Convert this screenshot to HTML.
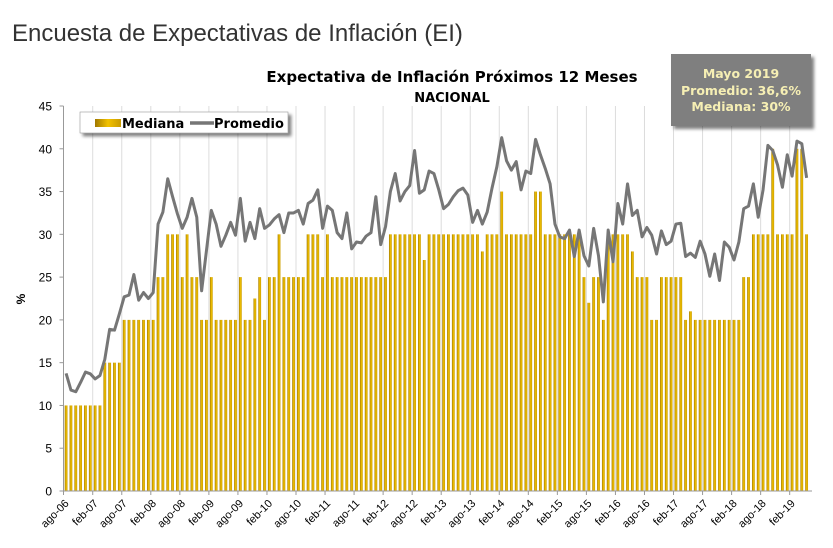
<!DOCTYPE html>
<html><head><meta charset="utf-8"><style>
body{margin:0;background:#fff;width:833px;height:543px;overflow:hidden;font-family:"Liberation Sans","DejaVu Sans",sans-serif}
</style></head><body>
<svg id="c" width="833" height="543" xmlns="http://www.w3.org/2000/svg">
<defs>
<linearGradient id="gold" x1="0" x2="1" y1="0" y2="0"><stop offset="0" stop-color="#a07800"/><stop offset="0.5" stop-color="#f2c200"/><stop offset="1" stop-color="#c89a00"/></linearGradient>
<filter id="sh" x="-10%" y="-10%" width="130%" height="140%"><feDropShadow dx="3" dy="3" stdDeviation="1.5" flood-color="#000" flood-opacity="0.5"/></filter>
</defs>
<text x="12" y="41" font-size="24" fill="#333">Encuesta de Expectativas de Inflación (EI)</text>
<text x="452" y="82" font-size="15" font-weight="bold" text-anchor="middle" fill="#000" font-family="DejaVu Sans, sans-serif">Expectativa de Inflación Próximos 12 Meses</text>
<text x="452" y="102" font-size="13" font-weight="bold" text-anchor="middle" fill="#000" font-family="DejaVu Sans, sans-serif">NACIONAL</text>
<g id="grid"></g><g id="bars"></g><g id="line"></g><g id="axes"></g>
<text transform="translate(25,299) rotate(-90)" font-size="12" font-weight="bold" text-anchor="middle">%</text>
<g filter="url(#sh)">
<rect x="80" y="112" width="208" height="21" fill="#fff" stroke="#999" stroke-width="0.6"/>
</g>
<rect x="95" y="119" width="26" height="8" fill="url(#gold)"/>
<text x="122" y="128" font-size="13" font-weight="bold" font-family="DejaVu Sans, sans-serif">Mediana</text>
<line x1="190" y1="123" x2="214" y2="123" stroke="#767676" stroke-width="3.5"/>
<text x="214" y="128" font-size="13" font-weight="bold" font-family="DejaVu Sans, sans-serif">Promedio</text>
<g>
<rect x="671" y="54" width="140" height="72" fill="#7f7f7f" filter="url(#sh)"/>
<text x="741" y="78" font-size="12.5" font-weight="bold" fill="#f6efb4" text-anchor="middle" font-family="DejaVu Sans, sans-serif">Mayo 2019</text>
<text x="741" y="95" font-size="12.5" font-weight="bold" fill="#f6efb4" text-anchor="middle" font-family="DejaVu Sans, sans-serif">Promedio: 36,6%</text>
<text x="741" y="111" font-size="12.5" font-weight="bold" fill="#f6efb4" text-anchor="middle" font-family="DejaVu Sans, sans-serif">Mediana: 30%</text>
</g>
</svg>
<script>
const mediana=[10,10,10,10,10,10,10,10,15,15,15,15,20,20,20,20,20,20,20,25,25,30,30,30,25,30,25,25,20,20,25,20,20,20,20,20,25,20,20,22.5,25,20,25,25,30,25,25,25,25,25,30,30,30,25,30,25,25,25,25,25,25,25,25,25,25,25,25,30,30,30,30,30,30,30,27,30,30,30,30,30,30,30,30,30,30,30,28,30,30,30,35,30,30,30,30,30,30,35,35,30,30,30,30,30,30,30,30,25,22,25,25,20,30,30,30,30,30,28,25,25,25,20,20,25,25,25,25,25,20,21,20,20,20,20,20,20,20,20,20,20,25,25,30,30,30,30,40,30,30,30,30,40,40,30];
const promedio=[13.75,11.8,11.6,12.7,13.9,13.7,13.1,13.5,15.4,18.9,18.8,20.7,22.7,22.9,25.3,22.3,23.2,22.5,23.2,31.2,32.6,36.5,34.4,32.4,30.7,32,34.2,32,23.4,28.1,32.8,31.2,28.6,29.9,31.4,29.9,34.2,29.2,31.4,29.5,33,30.7,31.1,31.8,32.3,30.2,32.5,32.5,32.8,31.2,33.6,34,35.2,30.7,33.3,32.8,30.2,29.5,32.5,28.3,29.1,29,29.8,30.2,34.4,28.8,30.9,35,37.1,33.9,35,35.7,39.8,34.8,35.2,37.4,37.1,35.2,33,33.5,34.4,35.1,35.4,34.6,31.4,32.8,31.2,32.6,35.4,37.9,41.3,38.6,37.5,38.5,35.2,37.4,37.1,41.1,39.3,37.7,35.9,31.2,29.7,29.5,30.5,27.4,30.5,27.5,26.3,30.7,27.5,22.1,30.5,26.8,33.6,31.2,35.9,32.2,32.8,29.7,30.8,29.9,27.7,30.4,28.8,29.2,31.2,31.3,27.4,27.8,27.3,29.2,27.7,25.1,27.7,24.6,29.1,28.5,27,29.1,33,33.3,35.9,32,35.2,40.4,39.8,38.1,35.5,39.3,36.8,40.9,40.6,36.6];
const tickLabels=["ago-06","feb-07","ago-07","feb-08","ago-08","feb-09","ago-09","feb-10","ago-10","feb-11","ago-11","feb-12","ago-12","feb-13","ago-13","feb-14","ago-14","feb-15","ago-15","feb-16","ago-16","feb-17","ago-17","feb-18","ago-18","feb-19"];
const yTicks=[0,5,10,15,20,25,30,35,40,45];
const NS="http://www.w3.org/2000/svg";
const X0=63.5,STEP=4.84,Y0=491,Y1=106,YMAX=45;
const xc=i=>X0+2.6+i*STEP;
const y=v=>Y0-(v/YMAX)*(Y0-Y1);
function mk(t,a,p){const e=document.createElementNS(NS,t);for(const k in a)e.setAttribute(k,a[k]);p.appendChild(e);return e;}
const grid=document.getElementById('grid'),bars=document.getElementById('bars'),lineG=document.getElementById('line'),axes=document.getElementById('axes');
tickLabels.forEach((lab,k)=>{
  const tx=k===0?X0:xc(k*6)-STEP/2;
  if(k>0){const g=mk('line',{x1:tx,x2:tx,y1:Y1,y2:Y0,stroke:'#dcdcdc','stroke-width':1},grid);
  
  }
  const tk=mk('line',{x1:tx,x2:tx,y1:Y0,y2:Y0+4,stroke:'#999'},axes);
  
  
  const t=mk('text',{x:tx+6,y:Y0+13,'font-size':11,'text-anchor':'end',transform:`rotate(-45 ${tx+6} ${Y0+13})`},axes);
  t.textContent=lab;
  
  
});
yTicks.forEach(v=>{
  const t=mk('text',{x:52,y:y(v)+4.5,'font-size':12,'text-anchor':'end'},axes);
  t.textContent=v;
  
  
  const tk=mk('line',{x1:X0-4,x2:X0,y1:y(v),y2:y(v),stroke:'#999'},axes);
  
  
});
const ya=mk('line',{x1:X0,x2:X0,y1:Y1,y2:Y0,stroke:'#999'},axes);


const xa=mk('line',{x1:X0,x2:812,y1:Y0,y2:Y0,stroke:'#999'},axes);


mediana.forEach((v,i)=>{
  const b=mk('rect',{x:xc(i)-1.4,y:y(v),width:2.8,height:Y0-y(v),fill:'url(#gold)'},bars);
  
  
});
const p=mk('polyline',{points:promedio.map((v,i)=>xc(i)+','+y(v)).join(' '),fill:'none',stroke:'#767676','stroke-width':3,'stroke-linejoin':'round'},lineG);


</script>
</body></html>
